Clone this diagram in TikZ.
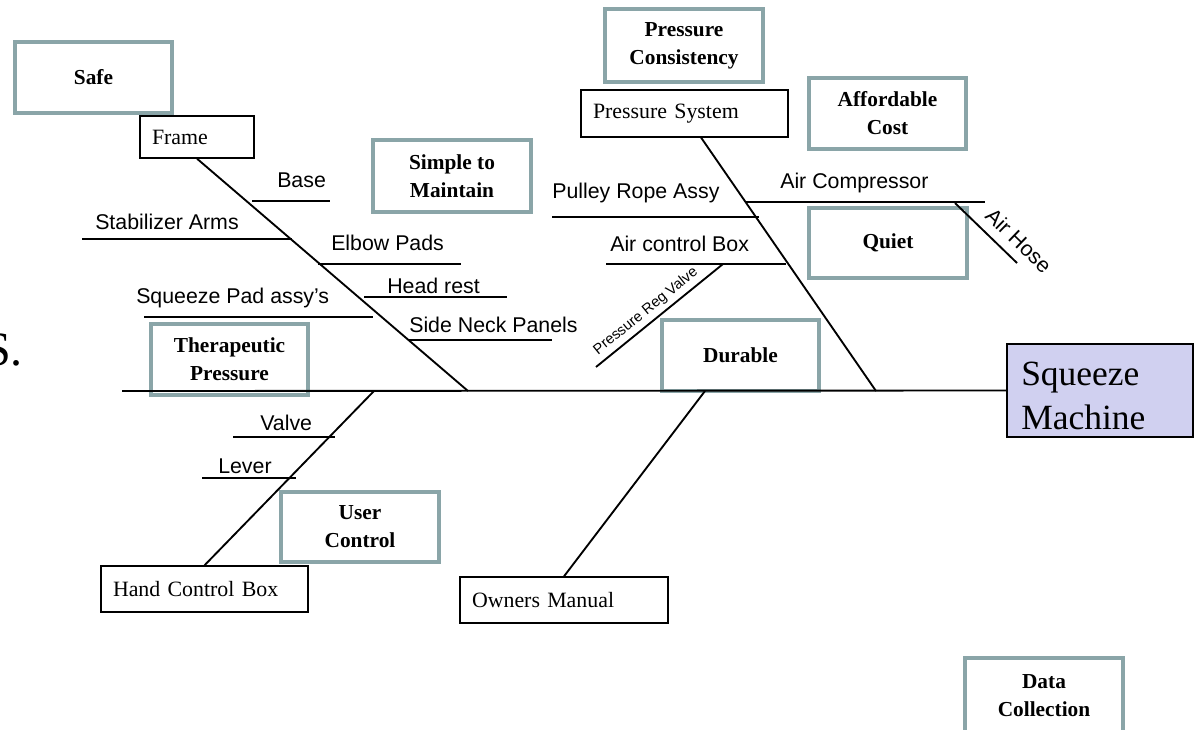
\documentclass[tikz,border=0pt]{standalone}
\usepackage{fontspec}
\setmainfont{Liberation Serif}
\newfontfamily\labelfont{Liberation Sans}
\usetikzlibrary{calc}
\definecolor{boxteal}{RGB}{138,165,168}
\definecolor{headfill}{RGB}{208,208,240}

\begin{document}
\begin{tikzpicture}[x=0.75pt, y=-0.75pt,
  every node/.style={inner sep=0pt},
  sz/.style 2 args={minimum width=#1*0.75pt, minimum height=#2*0.75pt},
  goal/.style={draw=boxteal, line width=2.6pt, fill=white, align=center,
    font=\fontsize{16}{21}\selectfont\bfseries},
  part/.style={draw=black, line width=1pt, fill=white, align=left,
    inner xsep=9pt, font=\fontsize{16.4}{20}\selectfont},
  head/.style={draw=black, line width=1.1pt, fill=headfill},
  headtext/.style={anchor=base west, font=\fontsize{26.6}{33}\selectfont},
  bone/.style={line width=1.4pt},
  twig/.style={line width=1.4pt},
  lbl/.style={anchor=base west, font=\labelfont\fontsize{16}{19}\selectfont},
]
\useasboundingbox (0,0) rectangle (1196,729);

% goals (teal boxes)
\node[goal, sz={157}{71}] (safe)    at (93.5,77.5)  {Safe};
\node[goal, sz={158}{73}] (consist) at (684,45.5)   {Pressure\\Consistency};
\node[goal, sz={157}{71}] (afford)  at (887.5,113.5){Affordable\\Cost};
\node[goal, sz={158}{72}] (simple)  at (452,176)    {Simple to\\Maintain};
\node[goal, sz={158}{70}] (quiet)   at (888,243)    {Quiet};
\node[goal, sz={157}{71}] (therap)  at (229.5,359.5){Therapeutic\\Pressure};
\node[goal, sz={157}{71}] (durable) at (740.5,355.5){Durable};
\node[goal, sz={158}{70}] (userctl) at (360,527)    {User\\Control};
\node[goal, sz={158}{76}] (data)    at (1044,696)   {Data\\Collection};

% main parts (black boxes)
\node[part, text width=67.5pt,  sz={114}{42}] (frame)  at (197,137)   {Frame};
\node[part, text width=137.25pt, sz={207}{47}] (psys)   at (684.5,113.5) {Pressure System};
\node[part, text width=137.25pt, sz={207}{46}] (hcb)    at (204.5,589) {Hand Control Box};
\node[part, text width=138pt,   sz={208}{46}] (manual) at (564,600)   {Owners Manual};

% head of the fish
\node[head, sz={186}{93}] (machine) at (1100,390.5) {};
\node[headtext] (machine1) at (1021,385) {Squeeze};
\node[headtext] (machine2) at (1021,429) {Machine};

% cut-off slide text at the left edge
\node[anchor=base west, font=\fontsize{36}{40}\selectfont] (edge) at (-16,365) {S.};

% spine and main bones
\coordinate (tail) at (122,391);
\coordinate (j1) at (468,391);
\coordinate (j2) at (374,391);
\coordinate (j3) at (705,391);
\coordinate (j4) at (876,391);
\draw[bone] (tail) -- (machine.west);
\draw[bone] (frame.south) -- (j1);
\draw[bone] (hcb.north) -- (j2);
\draw[bone] (manual.north) -- (j3);
\draw[bone] (psys) -- (j4);

% twigs on the frame bone
\coordinate (base-a) at (252,201);  \coordinate (base-b) at (330,201);
\coordinate (stab-a) at (82,239);   \coordinate (stab-b) at (292,239);
\coordinate (elbow-a) at (318,264); \coordinate (elbow-b) at (461,264);
\coordinate (head-a) at (364,297);  \coordinate (head-b) at (507,297);
\coordinate (pad-a) at (144,317);   \coordinate (pad-b) at (373,317);
\coordinate (neck-a) at (408,340);  \coordinate (neck-b) at (552,340);
\draw[twig] (base-a) -- (base-b);
\draw[twig] (stab-a) -- (stab-b);
\draw[twig] (elbow-a) -- (elbow-b);
\draw[twig] (head-a) -- (head-b);
\draw[twig] (pad-a) -- (pad-b);
\draw[twig] (neck-a) -- (neck-b);
\node[lbl] (base)  at (277,187) {Base};
\node[lbl] (stab)  at (95,229)  {Stabilizer Arms};
\node[lbl] (elbow) at (331,250) {Elbow Pads};
\node[lbl] (headr) at (387,293) {Head rest};
\node[lbl] (pad)   at (136,303) {Squeeze Pad assy’s};
\node[lbl] (neck)  at (409,332) {Side Neck Panels};

% twigs on the hand control bone
\coordinate (valve-a) at (233,437); \coordinate (valve-b) at (335,437);
\coordinate (lever-a) at (202,478); \coordinate (lever-b) at (296,478);
\draw[twig] (valve-a) -- (valve-b);
\draw[twig] (lever-a) -- (lever-b);
\node[lbl] (valve) at (260,430) {Valve};
\node[lbl] (lever) at (218,473) {Lever};

% twigs on the pressure system bone
\coordinate (pulley-a) at (552,217); \coordinate (pulley-b) at (759,217);
\coordinate (acb-a) at (606,264);    \coordinate (acb-b) at (786,264);
\coordinate (comp-a) at (746,202);   \coordinate (comp-b) at (985,202);
\coordinate (hose-a) at (955,203);   \coordinate (hose-b) at (1017,263);
\coordinate (prv-a) at (596,367);    \coordinate (prv-b) at (723,264);
\draw[twig] (pulley-a) -- (pulley-b);
\draw[twig] (acb-a) -- (acb-b);
\draw[twig] (comp-a) -- (comp-b);
\node[lbl] (pulley) at (552,198) {Pulley Rope Assy};
\node[lbl] (acb)    at (610,251) {Air control Box};
\node[lbl] (comp)   at (780,188) {Air Compressor};
\draw[twig] (hose-a) -- (hose-b)
  node[pos=0.35, sloped, anchor=south west, inner ysep=6.5pt,
       font=\labelfont\fontsize{16}{19}\selectfont] (hose) {Air Hose};
\draw[twig] (prv-a) -- (prv-b)
  node[pos=0.05, sloped, anchor=south west, inner ysep=3pt,
       font=\labelfont\fontsize{11}{13}\selectfont] (prv) {Pressure Reg Valve};
\end{tikzpicture}
\end{document}
